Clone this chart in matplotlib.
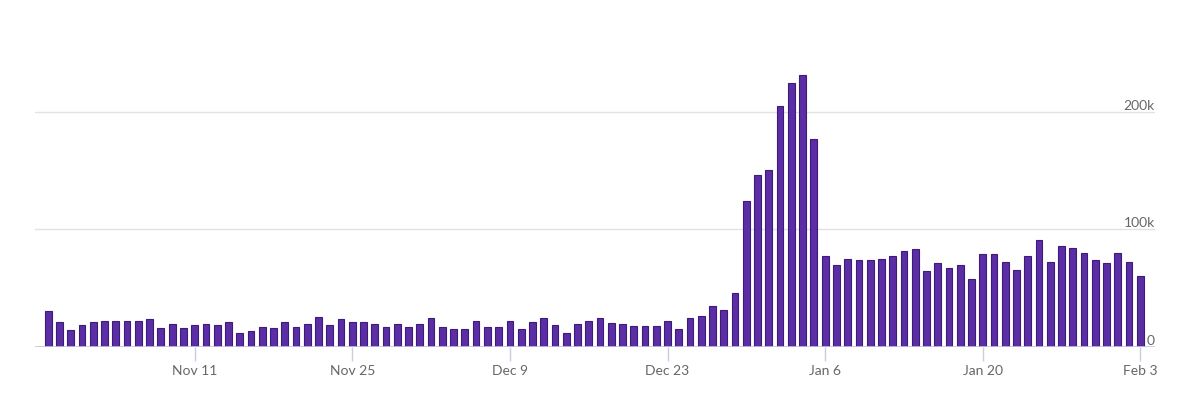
import numpy as np
import pandas as pd
import matplotlib
matplotlib.use('Agg')
import matplotlib.pyplot as plt
import matplotlib.transforms as mtransforms

plt.rcParams['font.family'] = ['Lato', 'DejaVu Sans']

# daily values, Oct 29 .. Feb 3 (in thousands)
days = pd.date_range('2018-10-29', '2019-02-03', freq='D')
values_k = [
    30.4, 21.3, 14.8,
    # Nov
    18.7, 21.3, 22.4, 22.4, 22.4, 22.4, 23.9, 15.9, 19.9, 15.9,
    18.7, 19.9, 18.7, 21.3, 12.2, 13.3, 17.3, 15.9, 21.3, 17.3,
    19.9, 25.2, 18.5, 23.6, 21.0, 21.0, 19.9, 17.0, 19.9, 17.0,
    # Dec
    19.9, 25.0, 17.0, 15.6, 15.6, 22.4, 17.0, 17.0, 22.4, 15.6,
    21.0, 25.0, 18.5, 11.9, 19.9, 22.4, 24.8, 20.8, 19.4, 18.0,
    18.0, 18.0, 22.0, 15.4, 24.6, 26.0, 35.1, 31.4, 45.7, 124.0, 146.6,
    # Jan
    150.6, 204.9, 224.9, 231.7, 177.0, 77.6, 69.8, 75.0, 73.9, 73.9,
    75.3, 77.8, 81.8, 83.0, 64.8, 71.3, 67.3, 69.9, 58.2, 79.3,
    79.3, 72.7, 65.9, 77.8, 90.9, 72.7, 85.8, 84.4, 80.4, 73.9, 71.3,
    # Feb
    80.4, 72.7, 60.5,
]
values = np.array(values_k) * 1000

tick_dates = ['2018-11-11', '2018-11-25', '2018-12-09', '2018-12-23',
              '2019-01-06', '2019-01-20', '2019-02-03']
tick_labels = ['Nov 11', 'Nov 25', 'Dec 9', 'Dec 23', 'Jan 6', 'Jan 20', 'Feb 3']
y_ticks = [0, 100000, 200000]
y_labels = ['0', '100k', '200k']

fig = plt.figure(figsize=(12, 3.93), dpi=100)
ax = fig.add_axes([35 / 1200, 46 / 393, 1120 / 1200, 293.75 / 393])

x = np.arange(len(days))
ax.bar(x, values, width=0.6, color='#5b2ea6', edgecolor='#3d1b78',
       linewidth=0.8, zorder=3)

ax.set_xlim(-1.18, 98.3)
ax.set_ylim(0, 250000)

for v in y_ticks[1:]:
    ax.axhline(v, color='#e2e2e2', lw=1, zorder=1)
ax.axhline(0, color='#c9c3e0', lw=1.2, zorder=4)

trans = mtransforms.blended_transform_factory(ax.transAxes, ax.transData)
for v, lab in zip(y_ticks, y_labels):
    ax.text(1.0, v, lab, transform=trans, ha='right', va='bottom',
            fontsize=10, color='#666666', zorder=5)

tick_pos = [days.get_loc(pd.Timestamp(d)) for d in tick_dates]
ax.set_xticks(tick_pos)
ax.set_xticklabels(tick_labels, fontsize=10, color='#666666')
ax.tick_params(axis='x', length=10, width=1, color='#c8cfdc', pad=3)
ax.set_yticks([])
for s in ax.spines.values():
    s.set_visible(False)

fig.savefig('out.png', dpi=100, facecolor='white')
